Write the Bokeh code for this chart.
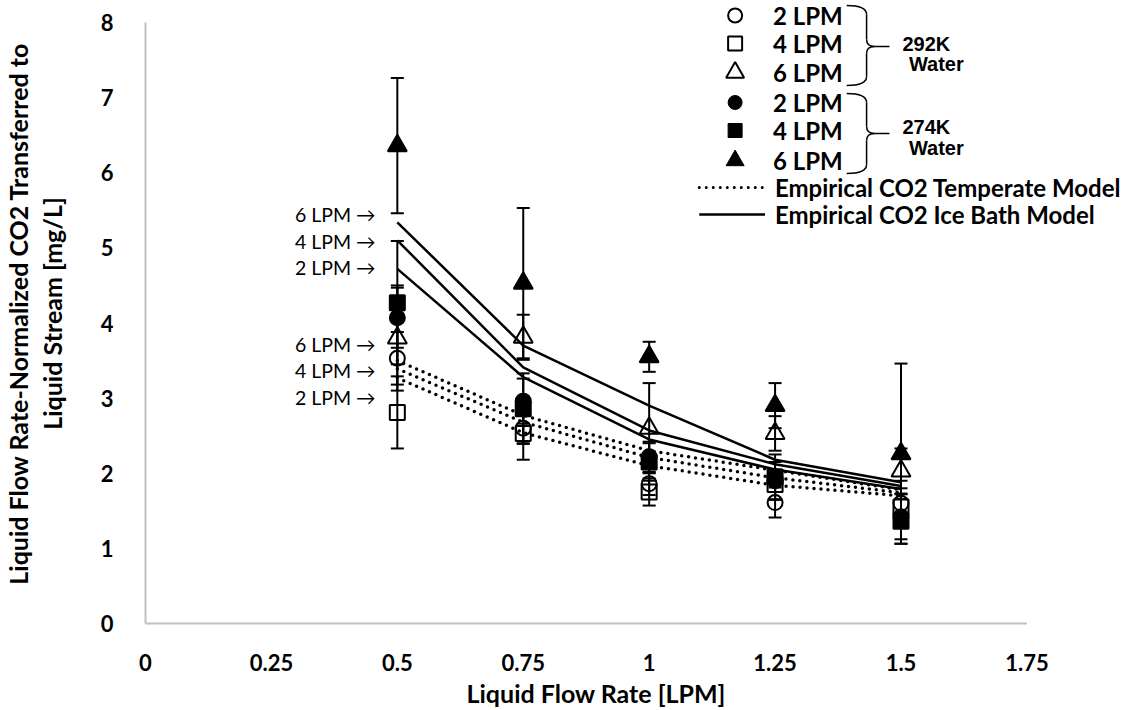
import numpy as np
from bokeh.plotting import figure
from bokeh.models import Label, FixedTicker, Range1d, Title
from bokeh.core.properties import value
from bokeh.embed import file_html
from bokeh.resources import INLINE

# ---------------- data ----------------
flow = [0.5, 0.75, 1.0, 1.25, 1.5]

# measured, 292K water (open markers)
w292_2lpm = [3.53, 2.60, 1.86, 1.61, 1.60]
w292_2lpm_err = [0.35, 0.20, 0.15, 0.20, 0.30]
w292_4lpm = [2.81, 2.53, 1.75, 1.85, 1.55]
w292_4lpm_err = [0.48, 0.35, 0.18, 0.20, 0.25]
w292_6lpm = [3.80, 3.81, 2.60, 2.53, 2.03]
w292_6lpm_err = [0.70, 0.30, 0.60, 0.23, 0.30]

# measured, 274K water (filled markers)
w274_2lpm = [4.07, 2.96, 2.22, 1.90, 1.42]
w274_2lpm_err = [0.40, 0.30, 0.20, 0.25, 0.30]
w274_4lpm = [4.27, 2.86, 2.15, 1.95, 1.36]
w274_4lpm_err = [0.82, 0.47, 0.25, 0.30, 0.30]
w274_6lpm = [6.36, 4.53, 3.55, 2.90, 2.26]
w274_6lpm_err = [0.90, 1.00, 0.20, 0.30, 1.20]

# empirical models
temperate_2lpm = [3.27, 2.54, 2.10, 1.84, 1.70]
temperate_4lpm = [3.39, 2.68, 2.21, 1.94, 1.74]
temperate_6lpm = [3.50, 2.77, 2.30, 2.04, 1.78]
icebath_2lpm = [4.72, 3.28, 2.45, 2.05, 1.79]
icebath_4lpm = [5.10, 3.41, 2.57, 2.12, 1.83]
icebath_6lpm = [5.34, 3.70, 2.90, 2.18, 1.88]

x_ticks = [0, 0.25, 0.5, 0.75, 1.0, 1.25, 1.5, 1.75]
x_tick_labels = ["0", "0.25", "0.5", "0.75", "1", "1.25", "1.5", "1.75"]
y_ticks = [0, 1, 2, 3, 4, 5, 6, 7, 8]

# ---------------- geometry helpers (pixel -> data, for annotations) -------
XPX0, XS = 141.0, 505.7
YPX0, YS = 623.0, 75.125


def dx(px):
    return (px - XPX0) / XS


def dy(py):
    return (YPX0 - py) / YS


BOLD = "Lato"
TITLE_FS = "25px"
FRAME_L, FRAME_R, FRAME_T, FRAME_B = 139, 1136, 0, 626
W, H = 1138, 710

p = figure(width=W, height=H, output_backend="svg", toolbar_location=None,
           x_range=Range1d(dx(FRAME_L), dx(FRAME_R)), y_range=Range1d(dy(FRAME_B), dy(FRAME_T)),
           min_border_left=FRAME_L, min_border_right=W - FRAME_R, min_border_top=FRAME_T,
           min_border_bottom=H - FRAME_B)
p.outline_line_color = None
p.grid.visible = False
p.background_fill_color = "white"

for ax in (p.xaxis[0], p.yaxis[0]):
    ax.axis_line_color = None
    ax.major_tick_line_color = None
    ax.minor_tick_line_color = None
    ax.major_label_text_font = BOLD
    ax.major_label_text_font_style = "bold"
    ax.major_label_text_font_size = "22px"
    ax.major_label_text_color = "black"

p.xaxis.ticker = FixedTicker(ticks=x_ticks)
p.xaxis.major_label_overrides = {t: l for t, l in zip(x_ticks, x_tick_labels)}
p.xaxis.major_label_standoff = 21
p.yaxis.ticker = FixedTicker(ticks=y_ticks)
p.yaxis.major_label_standoff = 24

# y axis title (two lines)
p.yaxis.axis_label = "Liquid Stream [mg/L]"
p.yaxis.axis_label_text_font = BOLD
p.yaxis.axis_label_text_font_style = "bold"
p.yaxis.axis_label_text_font_size = TITLE_FS
p.yaxis.axis_label_text_color = "black"
p.yaxis.axis_label_standoff = 31
p.add_layout(Title(text="Liquid Flow Rate-Normalized CO2 Transferred to", align="center",
                   text_font=BOLD, text_font_style="bold", text_font_size=TITLE_FS,
                   text_color="black", standoff=1), "left")

# x axis title
p.add_layout(Title(text="Liquid Flow Rate [LPM]", align="left", offset=462 - FRAME_L,
                   text_font=BOLD, text_font_style="bold", text_font_size=TITLE_FS,
                   text_color="black", standoff=4), "below")

# axis lines (only over the labelled extent)
p.segment(x0=[0], y0=[0], x1=[x_ticks[-1]], y1=[0], line_color="#c0c0c0", line_width=2)
p.segment(x0=[0], y0=[0], x1=[0], y1=[y_ticks[-1]], line_color="#c0c0c0", line_width=2)

# model lines
for ys in (temperate_2lpm, temperate_4lpm, temperate_6lpm):
    p.line(flow, ys, line_color="black", line_width=3.5, line_dash="0 7", line_cap="round")
for ys in (icebath_2lpm, icebath_4lpm, icebath_6lpm):
    p.line(flow, ys, line_color="black", line_width=2.5)

# error bars
series = [
    (w292_2lpm, w292_2lpm_err, "circle", False, 15),
    (w292_4lpm, w292_4lpm_err, "square", False, 15),
    (w292_6lpm, w292_6lpm_err, "triangle", False, 19),
    (w274_2lpm, w274_2lpm_err, "circle", True, 15),
    (w274_4lpm, w274_4lpm_err, "square", True, 15),
    (w274_6lpm, w274_6lpm_err, "triangle", True, 19),
]
for ys, es, _, _, _ in series:
    lo = [y - e for y, e in zip(ys, es)]
    hi = [y + e for y, e in zip(ys, es)]
    p.segment(x0=flow, y0=lo, x1=flow, y1=hi, line_color="black", line_width=2)
    p.scatter(flow + flow, lo + hi, marker="dash", size=13, line_color="black", line_width=2)

for ys, es, mk, filled, sz in series:
    p.scatter(flow, ys, marker=mk, size=sz, line_color="black", line_width=2,
              fill_color="black" if filled else None)

# arrow annotations
for txt, py in [("6 LPM \u2192", 214), ("4 LPM \u2192", 241), ("2 LPM \u2192", 267),
                ("6 LPM \u2192", 344), ("4 LPM \u2192", 370), ("2 LPM \u2192", 397)]:
    p.add_layout(Label(x=dx(372), y=dy(py), text=txt, text_font="Lato",
                       text_font_size="19.5px", text_align="right", text_baseline="middle",
                       text_color="black"))

# legend
LEG_FS = "24px"
rows = [15, 43, 72, 102, 130, 160]
leg_lbl = ["2 LPM", "4 LPM", "6 LPM", "2 LPM", "4 LPM", "6 LPM"]
for (ys, es, mk, filled, sz), py, t in zip(series, rows, leg_lbl):
    p.scatter([dx(733)], [dy(py)], marker=mk, size=sz - 1, line_color="black",
              line_width=2 if not filled else 1, fill_color="black" if filled else None)
    p.add_layout(Label(x=dx(771), y=dy(py), text=t, text_font=BOLD, text_font_style="bold",
                       text_font_size=LEG_FS, text_align="left", text_baseline="middle",
                       text_color="black"))

p.line([dx(697), dx(762)], [dy(187), dy(187)], line_color="black", line_width=3,
       line_dash="0 7", line_cap="round")
p.line([dx(697), dx(763)], [dy(214), dy(214)], line_color="black", line_width=2.5)
p.add_layout(Label(x=dx(773), y=dy(187), text="Empirical CO2 Temperate Model",
                   text_font=BOLD, text_font_style="bold", text_font_size=LEG_FS,
                   text_align="left", text_baseline="middle", text_color="black"))
p.add_layout(Label(x=dx(773), y=dy(214), text="Empirical CO2 Ice Bath Model",
                   text_font=BOLD, text_font_style="bold", text_font_size=LEG_FS,
                   text_align="left", text_baseline="middle", text_color="black"))

# braces
for top, mid, bot in [(5, 46, 85), (93, 133, 173)]:
    xl, xv, xt, xe = 845, 865, 873, 888
    p.quadratic(x0=[dx(xl), dx(xv), dx(xv), dx(xv)],
                y0=[dy(top), dy(mid - 7), dy(mid + 7), dy(bot - 9)],
                x1=[dx(xv), dx(xt), dx(xt), dx(xl)],
                y1=[dy(top + 9), dy(mid), dy(mid), dy(bot)],
                cx=[dx(xv), dx(xv), dx(xv), dx(xv)],
                cy=[dy(top), dy(mid), dy(mid), dy(bot)],
                line_color="black", line_width=1.5)
    p.segment(x0=[dx(xv), dx(xv), dx(xt)], y0=[dy(top + 9), dy(mid + 7), dy(mid)],
              x1=[dx(xv), dx(xv), dx(xe)], y1=[dy(mid - 7), dy(bot - 9), dy(mid)],
              line_color="black", line_width=1.5)

for txt, px, py in [("292K", 925, 43), ("Water", 935, 63), ("274K", 925, 126), ("Water", 935, 147)]:
    p.add_layout(Label(x=dx(px), y=dy(py), text=txt, text_font="Liberation Sans",
                       text_font_style="bold", text_font_size="20px", text_align="center",
                       text_baseline="middle", text_color="black"))

open("out.html", "w").write(file_html(p, INLINE))
